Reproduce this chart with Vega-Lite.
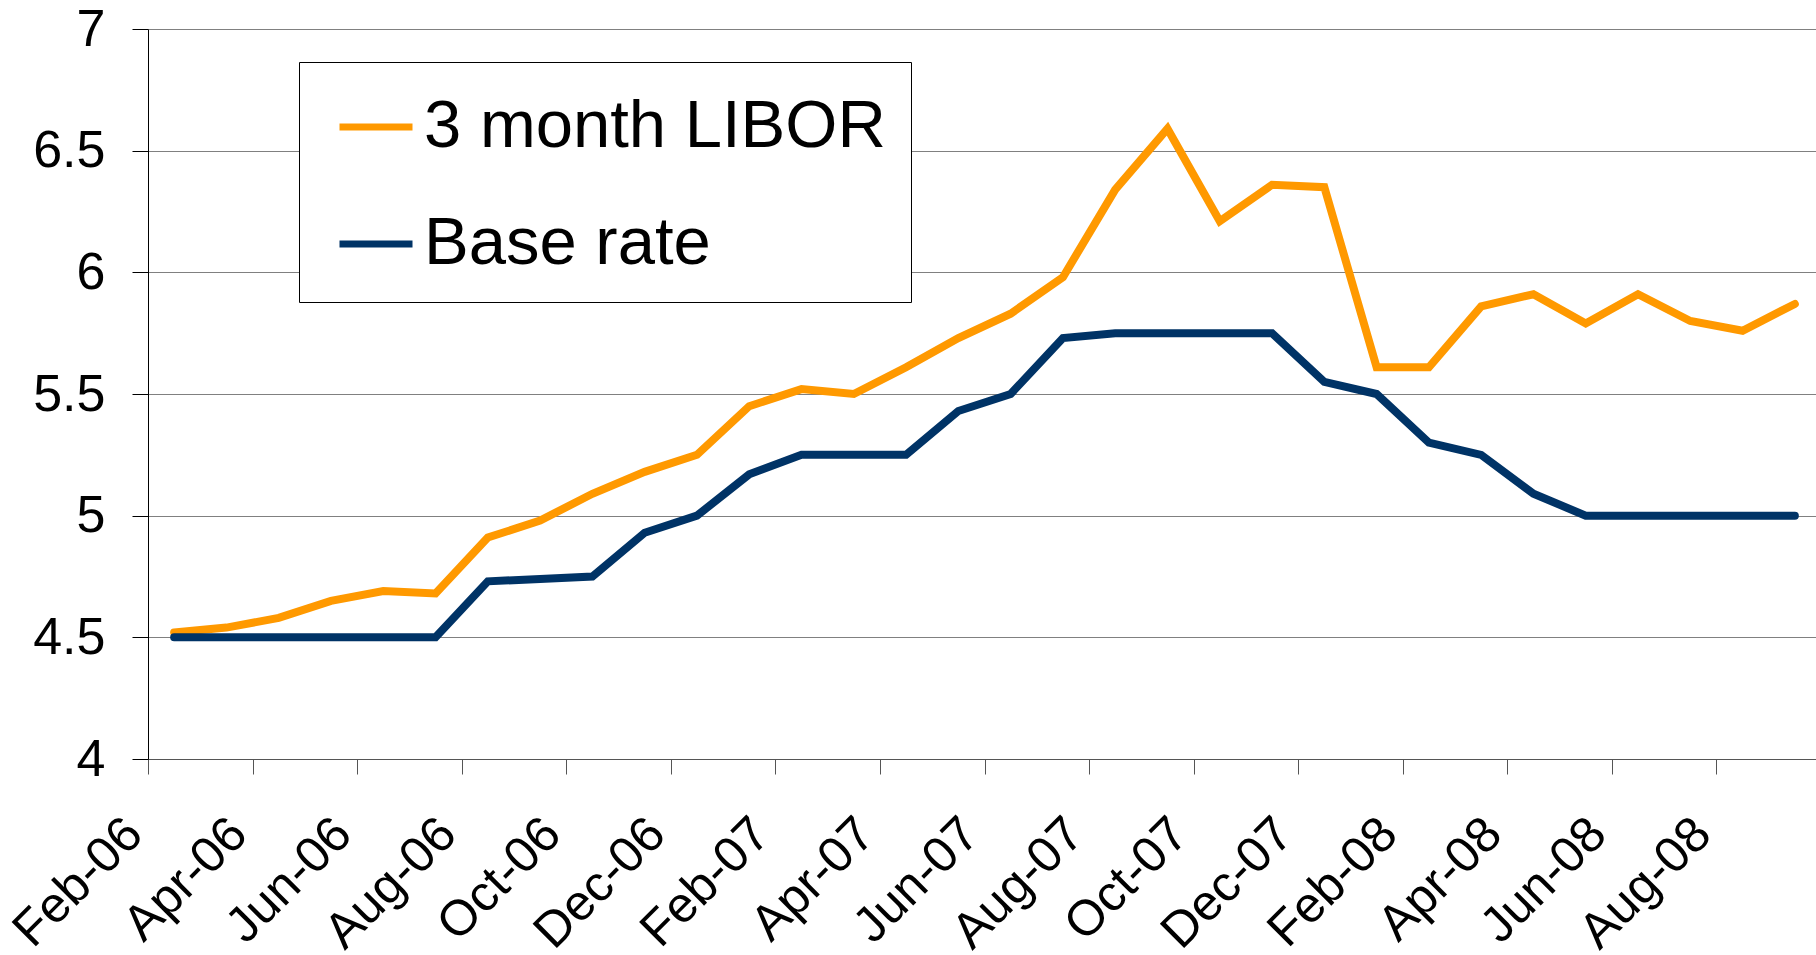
{
  "$schema": "https://vega.github.io/schema/vega-lite/v6.json",
  "width": 1673,
  "height": 730,
  "autosize": {"type": "none"},
  "padding": {"left": 148, "top": 29, "right": 0, "bottom": 196},
  "background": "white",
  "config": {"view": {"stroke": null}, "font": "Liberation Sans"},
  "data": {
    "values": [
      {"month": "Feb-06", "series": "3 month LIBOR", "rate": 4.52},
      {"month": "Mar-06", "series": "3 month LIBOR", "rate": 4.54},
      {"month": "Apr-06", "series": "3 month LIBOR", "rate": 4.58},
      {"month": "May-06", "series": "3 month LIBOR", "rate": 4.65},
      {"month": "Jun-06", "series": "3 month LIBOR", "rate": 4.69},
      {"month": "Jul-06", "series": "3 month LIBOR", "rate": 4.68},
      {"month": "Aug-06", "series": "3 month LIBOR", "rate": 4.91},
      {"month": "Sep-06", "series": "3 month LIBOR", "rate": 4.98},
      {"month": "Oct-06", "series": "3 month LIBOR", "rate": 5.09},
      {"month": "Nov-06", "series": "3 month LIBOR", "rate": 5.18},
      {"month": "Dec-06", "series": "3 month LIBOR", "rate": 5.25},
      {"month": "Jan-07", "series": "3 month LIBOR", "rate": 5.45},
      {"month": "Feb-07", "series": "3 month LIBOR", "rate": 5.52},
      {"month": "Mar-07", "series": "3 month LIBOR", "rate": 5.50},
      {"month": "Apr-07", "series": "3 month LIBOR", "rate": 5.61},
      {"month": "May-07", "series": "3 month LIBOR", "rate": 5.73},
      {"month": "Jun-07", "series": "3 month LIBOR", "rate": 5.83},
      {"month": "Jul-07", "series": "3 month LIBOR", "rate": 5.98},
      {"month": "Aug-07", "series": "3 month LIBOR", "rate": 6.34},
      {"month": "Sep-07", "series": "3 month LIBOR", "rate": 6.59},
      {"month": "Oct-07", "series": "3 month LIBOR", "rate": 6.21},
      {"month": "Nov-07", "series": "3 month LIBOR", "rate": 6.36},
      {"month": "Dec-07", "series": "3 month LIBOR", "rate": 6.35},
      {"month": "Jan-08", "series": "3 month LIBOR", "rate": 5.61},
      {"month": "Feb-08", "series": "3 month LIBOR", "rate": 5.61},
      {"month": "Mar-08", "series": "3 month LIBOR", "rate": 5.86},
      {"month": "Apr-08", "series": "3 month LIBOR", "rate": 5.91},
      {"month": "May-08", "series": "3 month LIBOR", "rate": 5.79},
      {"month": "Jun-08", "series": "3 month LIBOR", "rate": 5.91},
      {"month": "Jul-08", "series": "3 month LIBOR", "rate": 5.80},
      {"month": "Aug-08", "series": "3 month LIBOR", "rate": 5.76},
      {"month": "Sep-08", "series": "3 month LIBOR", "rate": 5.87},
      {"month": "Feb-06", "series": "Base rate", "rate": 4.50},
      {"month": "Mar-06", "series": "Base rate", "rate": 4.50},
      {"month": "Apr-06", "series": "Base rate", "rate": 4.50},
      {"month": "May-06", "series": "Base rate", "rate": 4.50},
      {"month": "Jun-06", "series": "Base rate", "rate": 4.50},
      {"month": "Jul-06", "series": "Base rate", "rate": 4.50},
      {"month": "Aug-06", "series": "Base rate", "rate": 4.73},
      {"month": "Sep-06", "series": "Base rate", "rate": 4.74},
      {"month": "Oct-06", "series": "Base rate", "rate": 4.75},
      {"month": "Nov-06", "series": "Base rate", "rate": 4.93},
      {"month": "Dec-06", "series": "Base rate", "rate": 5.00},
      {"month": "Jan-07", "series": "Base rate", "rate": 5.17},
      {"month": "Feb-07", "series": "Base rate", "rate": 5.25},
      {"month": "Mar-07", "series": "Base rate", "rate": 5.25},
      {"month": "Apr-07", "series": "Base rate", "rate": 5.25},
      {"month": "May-07", "series": "Base rate", "rate": 5.43},
      {"month": "Jun-07", "series": "Base rate", "rate": 5.50},
      {"month": "Jul-07", "series": "Base rate", "rate": 5.73},
      {"month": "Aug-07", "series": "Base rate", "rate": 5.75},
      {"month": "Sep-07", "series": "Base rate", "rate": 5.75},
      {"month": "Oct-07", "series": "Base rate", "rate": 5.75},
      {"month": "Nov-07", "series": "Base rate", "rate": 5.75},
      {"month": "Dec-07", "series": "Base rate", "rate": 5.55},
      {"month": "Jan-08", "series": "Base rate", "rate": 5.50},
      {"month": "Feb-08", "series": "Base rate", "rate": 5.30},
      {"month": "Mar-08", "series": "Base rate", "rate": 5.25},
      {"month": "Apr-08", "series": "Base rate", "rate": 5.09},
      {"month": "May-08", "series": "Base rate", "rate": 5.00},
      {"month": "Jun-08", "series": "Base rate", "rate": 5.00},
      {"month": "Jul-08", "series": "Base rate", "rate": 5.00},
      {"month": "Aug-08", "series": "Base rate", "rate": 5.00},
      {"month": "Sep-08", "series": "Base rate", "rate": 5.00}
    ]
  },
  "mark": {"type": "line", "strokeWidth": 8, "strokeCap": "round"},
  "encoding": {
    "x": {
      "field": "month",
      "type": "ordinal",
      "sort": null,
      "scale": {"type": "point", "padding": 0.5},
      "axis": {
        "values": ["Feb-06", "Apr-06", "Jun-06", "Aug-06", "Oct-06", "Dec-06", "Feb-07", "Apr-07", "Jun-07", "Aug-07", "Oct-07", "Dec-07", "Feb-08", "Apr-08", "Jun-08", "Aug-08"],
        "title": null,
        "grid": false,
        "tickOffset": -26.14,
        "tickSize": 15,
        "tickColor": "#555555",
        "domainColor": "#555555",
        "labelAngle": -45,
        "labelAlign": "right",
        "labelBaseline": "middle",
        "labelOffset": -14,
        "labelPadding": 52,
        "labelFontSize": 50,
        "labelColor": "black",
        "labelOverlap": false,
        "labelFont": "Liberation Sans"
      }
    },
    "y": {
      "field": "rate",
      "type": "quantitative",
      "scale": {"domain": [4, 7], "nice": false, "zero": false},
      "axis": {
        "values": [4, 4.5, 5, 5.5, 6, 6.5, 7],
        "format": "~g",
        "title": null,
        "grid": true,
        "gridColor": "#808080",
        "gridWidth": 1,
        "tickSize": 16,
        "tickColor": "black",
        "domainColor": "black",
        "labelFontSize": 52,
        "labelPadding": 27,
        "labelColor": "black",
        "labelFont": "Liberation Sans"
      }
    },
    "color": {
      "field": "series",
      "type": "nominal",
      "scale": {"domain": ["3 month LIBOR", "Base rate"], "range": ["#FF9900", "#003366"]},
      "legend": {
        "orient": "none",
        "legendX": 151,
        "legendY": 33,
        "title": null,
        "symbolType": "stroke",
        "symbolSize": 5329,
        "symbolStrokeWidth": 7,
        "labelFontSize": 67,
        "labelFont": "Liberation Sans",
        "labelColor": "black",
        "labelOffset": 8,
        "labelLimit": 1000,
        "rowPadding": 44,
        "padding": 25,
        "symbolOffset": 12,
        "fillColor": "white",
        "strokeColor": "black"
      }
    }
  }
}
